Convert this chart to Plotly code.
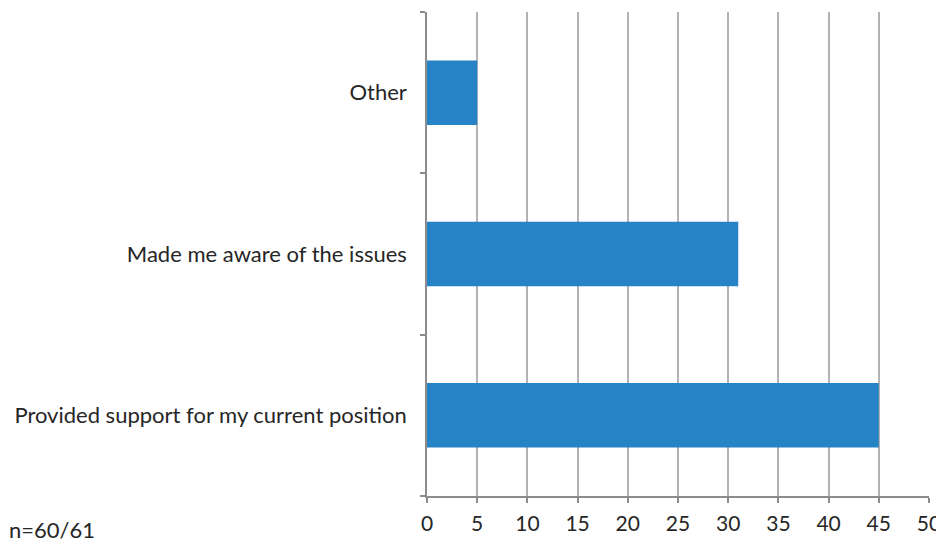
import plotly.graph_objects as go

categories = ["Provided support for my current position", "Made me aware of the issues", "Other"]
values = [45, 31, 5]
x_ticks = [0, 5, 10, 15, 20, 25, 30, 35, 40, 45, 50]
note = "n=60/61"

# page body has ~8px default margin, so the figure is drawn 8px smaller
OFF = 8
W, H = 944 - OFF, 544 - OFF
L, R, T, B = 427 - OFF, 15, 12 - OFF, 48
pw, ph = W - L - R, H - T - B

fig = go.Figure(go.Bar(
    y=categories, x=values, orientation="h",
    marker=dict(color="#2683C6", line=dict(width=0)),
    width=0.4,
))

fig.update_layout(
    width=W, height=H,
    margin=dict(l=L, r=R, t=T, b=B),
    paper_bgcolor="white", plot_bgcolor="white",
    font=dict(family="Lato, Open Sans, sans-serif", size=22, color="#262626"),
    showlegend=False,
    annotations=[dict(text=note, xref="paper", yref="paper",
                      x=(-1 - L) / pw, y=-(529 - OFF - (H - B)) / ph,
                      xanchor="left", yanchor="middle",
                      showarrow=False,
                      font=dict(size=22, color="#262626"))],
)

fig.update_xaxes(
    range=[0, 50], tickvals=x_ticks, showgrid=True, gridcolor="#B3B3B3", gridwidth=1.5,
    showline=True, linecolor="#8C8C8C", linewidth=1.5,
    ticks="outside", ticklen=5, tickcolor="#8C8C8C", tickwidth=1.5,
    ticklabelstandoff=3, zeroline=False, automargin=False,
    tickfont=dict(size=21),
)
fig.update_yaxes(
    categoryorder="array", categoryarray=categories,
    showgrid=False, showline=True, linecolor="#8C8C8C", linewidth=1.5,
    ticks="outside", ticklen=5, tickcolor="#8C8C8C", tickwidth=1.5,
    tickson="boundaries", ticklabelstandoff=14, range=[-0.5, 2.5], automargin=False,
)

fig.write_html("out.html")
